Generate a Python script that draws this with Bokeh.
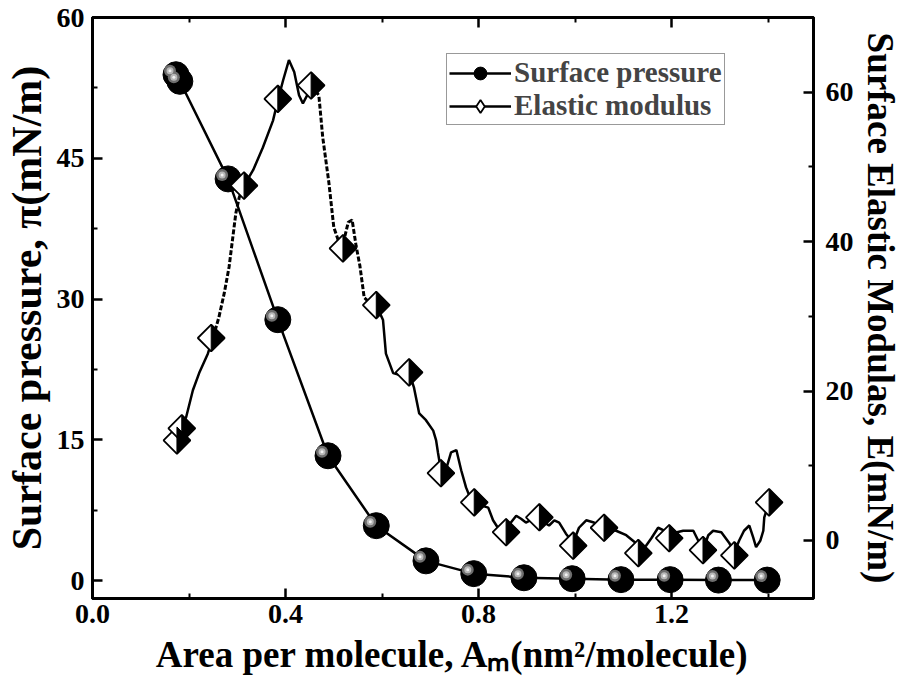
import numpy as np
from bokeh.plotting import figure
from bokeh.models import (Range1d, LinearAxis, FixedTicker, PrintfTickFormatter,
                          Legend, LegendItem)
from bokeh.embed import file_html
from bokeh.resources import INLINE

# ---------------- data ----------------
area_pressure = [0.173, 0.181, 0.281, 0.384, 0.488, 0.588, 0.691, 0.790,
                 0.894, 0.994, 1.095, 1.197, 1.297, 1.398]
surface_pressure = [53.9, 53.2, 42.8, 27.8, 13.3, 5.85, 2.1, 0.74,
                    0.30, 0.20, 0.10, 0.10, 0.05, 0.05]

area_modulus = [0.175, 0.185, 0.246, 0.314, 0.384, 0.453, 0.519, 0.588, 0.656,
                0.722, 0.791, 0.857, 0.926, 0.996, 1.060, 1.131, 1.195, 1.265,
                1.330, 1.402]
elastic_modulus = [13.4, 15.0, 27.1, 47.5, 59.1, 60.9, 39.1, 31.5, 22.5,
                   9.0, 5.1, 1.1, 3.1, -0.7, 1.7, -1.7, 0.3, -1.3, -2.0, 5.1]

# measured trace of the connecting curve of the elastic modulus
area_modulus_curve = [
    0.177, 0.194, 0.208, 0.221, 0.239, 0.250, 0.262, 0.273, 0.283, 0.297,
    0.304, 0.314, 0.333, 0.353, 0.374, 0.384, 0.395, 0.407, 0.418, 0.428,
    0.436, 0.445, 0.453, 0.469, 0.477, 0.490, 0.500, 0.513, 0.521, 0.530,
    0.538, 0.546, 0.554, 0.563, 0.577, 0.588, 0.602, 0.608, 0.623, 0.639,
    0.656, 0.666, 0.677, 0.691, 0.706, 0.712, 0.716, 0.722, 0.733, 0.743,
    0.754, 0.764, 0.774, 0.782, 0.791, 0.805, 0.820, 0.830, 0.840, 0.857,
    0.867, 0.878, 0.888, 0.898, 0.913, 0.925, 0.936, 0.946, 0.957, 0.967,
    0.981, 0.996, 1.008, 1.023, 1.039, 1.060, 1.085, 1.106, 1.127, 1.133,
    1.147, 1.158, 1.172, 1.185, 1.199, 1.211, 1.224, 1.245, 1.255, 1.265,
    1.276, 1.286, 1.303, 1.319, 1.330, 1.340, 1.350, 1.361, 1.369, 1.375,
    1.384, 1.390, 1.392, 1.402]
elastic_modulus_curve = [
    14.5, 16.5, 20.1, 22.4, 25.0, 27.2, 29.9, 33.1, 36.6, 43.8,
    45.9, 47.5, 49.6, 52.6, 56.2, 58.9, 61.6, 64.3, 62.7, 59.6,
    58.5, 59.6, 60.9, 59.6, 54.0, 47.8, 41.9, 39.5, 40.2, 42.6,
    42.9, 39.5, 36.8, 32.5, 31.7, 31.5, 29.5, 25.0, 22.4, 22.1,
    22.5, 20.5, 17.0, 16.1, 14.7, 13.4, 11.7, 9.4, 9.6, 11.8,
    12.1, 9.4, 7.1, 5.8, 5.1, 4.7, 4.4, 2.7, 1.7, 1.1,
    2.4, 3.3, 2.9, 2.4, 2.9, 3.1, 2.4, 2.0, 2.7, 2.4,
    0.9, -0.3, 1.7, 2.7, 2.4, 1.6, 1.3, 0.7, -0.4, -1.3,
    -0.7, 0.3, 1.7, 1.3, 0.3, 1.1, 1.3, 1.3, 0.0, -1.3,
    0.7, 1.3, 1.1, -0.3, -1.6, 0.0, 1.3, 2.0, 0.4, -0.9,
    0.0, 1.3, 3.1, 5.1]

x_ticks = [0.0, 0.4, 0.8, 1.2]
x_minor_ticks = [0.2, 0.6, 1.0, 1.4]
left_ticks = [0, 15, 30, 45, 60]
left_minor_ticks = [7.5, 22.5, 37.5, 52.5]
right_ticks = [0, 20, 40, 60]
right_minor_ticks = [10, 30, 50]

x_label = "Area per molecule, A\u2098(nm\u00b2/molecule)"
left_label = "Surface pressure, \u03c0(mN/m)"
right_label = "Surface Elastic Modulas, E(mN/m)"
legend_labels = ["Surface pressure", "Elastic modulus"]

# ---------------- layout / style ----------------
X_RANGE = (0.0, 1.494)
LEFT_RANGE = (-1.91, 60.0)
RIGHT_RANGE = (-7.77, 70.0)
FW, FH = 721, 581
FONT = "Liberation Serif"
DASHED_SPANS = [(0.246, 0.314), (0.453, 0.588)]

p = figure(frame_width=FW, frame_height=FH,
           x_range=Range1d(*X_RANGE), y_range=Range1d(*LEFT_RANGE),
           output_backend="svg", toolbar_location=None,
           min_border_left=89, min_border_right=87,
           min_border_top=17, min_border_bottom=92)
p.extra_y_ranges = {"right": Range1d(*RIGHT_RANGE)}
p.grid.visible = False
p.outline_line_color = "black"
p.outline_line_width = 3
p.background_fill_color = "white"
p.border_fill_color = "white"


def style_axis(ax, label_size="36px"):
    ax.axis_line_color = "black"
    ax.axis_line_width = 3
    ax.major_tick_in = 10
    ax.major_tick_out = 0
    ax.minor_tick_in = 5
    ax.minor_tick_out = 0
    ax.major_tick_line_width = 2.5
    ax.minor_tick_line_width = 2
    ax.major_tick_line_color = "black"
    ax.minor_tick_line_color = "black"
    ax.major_label_text_font = FONT
    ax.major_label_text_font_style = "bold"
    ax.major_label_text_font_size = "28px"
    ax.major_label_text_color = "black"
    ax.axis_label_text_font = FONT
    ax.axis_label_text_font_style = "bold"
    ax.axis_label_text_font_size = label_size
    ax.axis_label_text_color = "black"


xax = p.xaxis[0]
style_axis(xax, "37px")
xax.ticker = FixedTicker(ticks=x_ticks, minor_ticks=x_minor_ticks)
xax.formatter = PrintfTickFormatter(format="%.1f")
xax.axis_label = x_label
xax.major_label_standoff = 6
xax.axis_label_standoff = 8

yax = p.yaxis[0]
style_axis(yax, "42px")
yax.ticker = FixedTicker(ticks=left_ticks, minor_ticks=left_minor_ticks)
yax.axis_label = left_label
yax.major_label_standoff = 8
yax.axis_label_standoff = 4

rax = LinearAxis(y_range_name="right")
style_axis(rax, "37px")
rax.ticker = FixedTicker(ticks=right_ticks, minor_ticks=right_minor_ticks)
rax.axis_label = right_label
rax.major_label_standoff = 12
rax.axis_label_standoff = 3
p.add_layout(rax, "right")

tax = LinearAxis()
style_axis(tax)
tax.ticker = FixedTicker(ticks=x_ticks, minor_ticks=x_minor_ticks)
tax.major_label_text_font_size = "1px"
tax.major_label_text_color = None
tax.major_label_standoff = 0
p.add_layout(tax, "above")

# ---------------- surface pressure (spheres) ----------------
pr_line = p.line(area_pressure, surface_pressure, line_color="black", line_width=2.5)
pr_dot = p.scatter(area_pressure, surface_pressure, marker="circle", size=26,
                   fill_color="black", line_color="black", line_width=1)
hx = -6 * (X_RANGE[1] - X_RANGE[0]) / FW
hy = 4 * (LEFT_RANGE[1] - LEFT_RANGE[0]) / FH
hl_x = [a + hx for a in area_pressure]
hl_y = [s + hy for s in surface_pressure]
p.scatter(hl_x, hl_y, marker="circle", size=12, fill_color="#6e6e6e", line_color=None)
p.scatter(hl_x, hl_y, marker="circle", size=7, fill_color="#b8b8b8", line_color=None)
p.scatter(hl_x, hl_y, marker="circle", size=3, fill_color="#f2f2f2", line_color=None)

# ---------------- elastic modulus ----------------
cx = np.array(area_modulus_curve)
cy = np.array(elastic_modulus_curve)
mid = (cx[:-1] + cx[1:]) / 2
seg_dashed = np.zeros(len(mid), bool)
for a, b in DASHED_SPANS:
    seg_dashed |= (mid >= a) & (mid <= b)
solid_xs, solid_ys, dash_xs, dash_ys = [], [], [], []
start = 0
for i in range(1, len(mid) + 1):
    if i == len(mid) or seg_dashed[i] != seg_dashed[start]:
        xs_ = list(cx[start:i + 1])
        ys_ = list(cy[start:i + 1])
        if seg_dashed[start]:
            dash_xs.append(xs_); dash_ys.append(ys_)
        else:
            solid_xs.append(xs_); solid_ys.append(ys_)
        start = i

el_line = p.multi_line(solid_xs, solid_ys, line_color="black", line_width=2.5,
                       y_range_name="right")
p.multi_line(dash_xs, dash_ys, line_color="black", line_width=3,
             line_dash="5 2", y_range_name="right")

el_dia = p.scatter(area_modulus, elastic_modulus, marker="square", angle=np.pi / 4,
                   size=19, fill_color="white", line_color="black", line_width=1.8,
                   y_range_name="right")
R_PX = 13.4
rx = R_PX * (X_RANGE[1] - X_RANGE[0]) / FW
ry = R_PX * (RIGHT_RANGE[1] - RIGHT_RANGE[0]) / FH
half_xs = [[a, a + rx, a] for a in area_modulus]
half_ys = [[e + ry, e, e - ry] for e in elastic_modulus]
p.patches(half_xs, half_ys, fill_color="black", line_color="black", line_width=1,
          y_range_name="right")

# legend-only diamond symbol (not painted in the plot area)
leg_dia = p.scatter(area_modulus, elastic_modulus, marker="diamond", size=19,
                    fill_color="white", line_color="black", line_width=1.8,
                    y_range_name="right", visible=False)

# ---------------- legend ----------------
legend = Legend(items=[LegendItem(label=legend_labels[0], renderers=[pr_line, pr_dot]),
                       LegendItem(label=legend_labels[1], renderers=[el_line, leg_dia])],
                location=(354, 473))
legend.label_text_font = FONT
legend.label_text_font_style = "bold"
legend.label_text_font_size = "29px"
legend.label_height = 30
legend.glyph_height = 32
legend.glyph_width = 62
legend.label_standoff = 3
legend.padding = 2
legend.spacing = 0
legend.margin = 0
legend.border_line_color = "#333333"
legend.border_line_width = 1.5
legend.background_fill_color = "white"
p.add_layout(legend)

open("out.html", "w").write(file_html(p, INLINE))
